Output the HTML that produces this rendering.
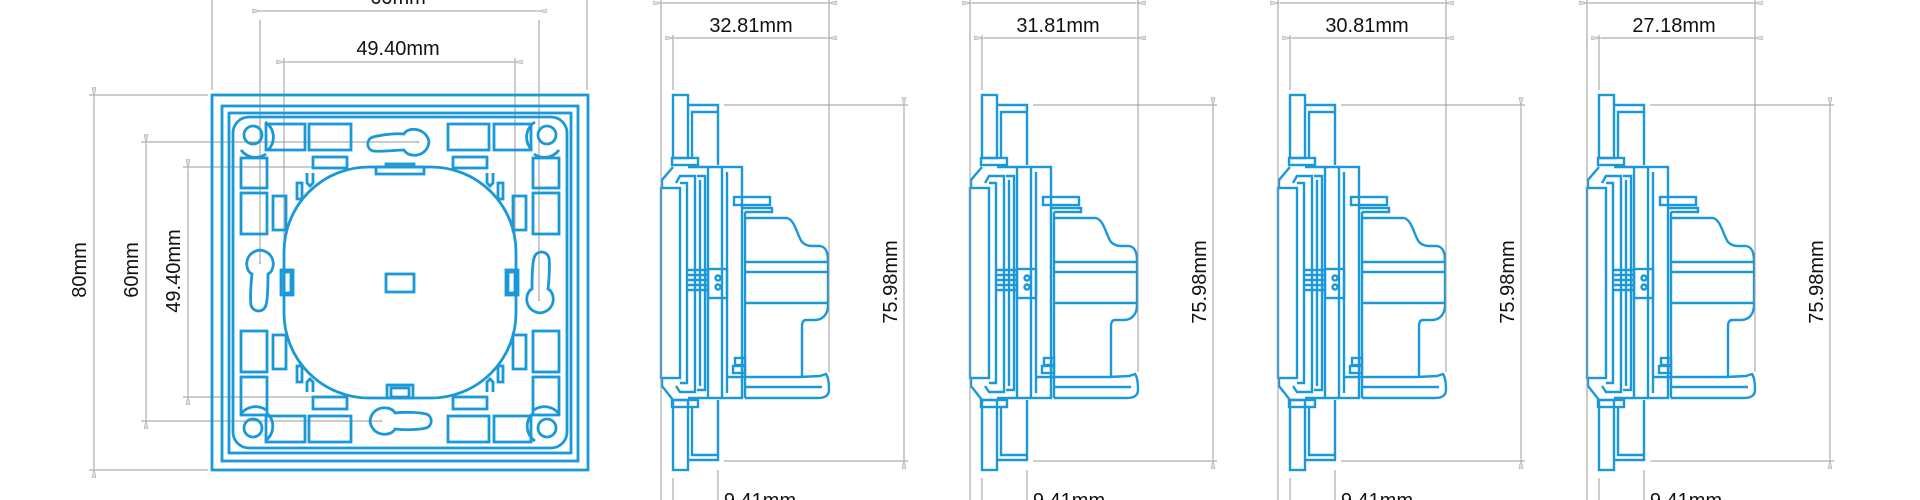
<!DOCTYPE html>
<html><head><meta charset="utf-8"><style>
html,body{margin:0;padding:0;background:#fff;}
svg{display:block;}
text{font-family:"Liberation Sans",sans-serif;font-size:20px;fill:#111;}
</style></head><body>
<svg width="1920" height="500" viewBox="0 0 1920 500" xmlns="http://www.w3.org/2000/svg">
<defs>
<marker id="a" viewBox="0 0 10 6" refX="0" refY="3" markerWidth="10" markerHeight="6" orient="auto-start-reverse" markerUnits="userSpaceOnUse">
<path d="M0,3 L10,1 L10,5 Z" fill="#ddd" stroke="#aaa" stroke-width="0.6"/>
</marker>
<g id="side" fill="none" stroke="#1a98d8" stroke-width="2.4">
  <rect x="673" y="95" width="15" height="63"/>
  <rect x="673" y="400" width="15" height="70"/>
  <path d="M688,105 H718 V165 M692,158 V112 H718"/>
  <path d="M688,460 H718 V400 M692,408 V455 H718"/>
  <rect x="672" y="158" width="26" height="7"/>
  <rect x="672" y="400" width="26" height="7"/>
  <path d="M673,167 L662,180 V188 M662,378 V386 L673,400"/>
  <rect x="661" y="188" width="19" height="190"/>
  <path d="M676,183 L680,176 H695 V392 H680 L676,386"/>
  <path d="M680,183 H687 V383 H680"/>
  <path d="M697,176 H705 V390 H697"/>
  <path d="M700,180 V386"/>
  <path d="M688,167 H722 M688,398 H722"/>
  <path d="M708,167 V398"/>
  <rect x="722" y="167" width="20" height="231"/>
  <path d="M727,172 V393"/>
  <rect x="734" y="197" width="36" height="8"/>
  <path d="M742,208 H772 V212 H745"/>
  <path d="M745,212 V398"/>
  <path d="M688,270 H708 M688,275 H708 M688,280 H708 M688,285 H708 M688,290 H708"/>
  <rect x="708" y="269" width="19" height="29"/>
  <circle cx="718" cy="278" r="2.5"/><circle cx="718" cy="287" r="2.5"/>
  <path d="M745,218 H787 C795,220 797,235 802,242 C805,245 808,246 812,246 H820 C826,247 828,252 828,262 V305 C828,315 822,320 815,320 H806 C803,320 802,323 802,326 V377"/>
  <path d="M745,262 H828 M745,272 H828 M745,303 H828"/>
  <path d="M727,377 H800 L820,376 L826,374 C829,378 829,386 829,390 C829,396 824,398 818,398 H745"/>
  <path d="M745,387 H822"/>
  <rect x="735" y="358" width="10" height="7"/><rect x="733" y="366" width="12" height="7"/>
</g>
<g id="sidedim" stroke="#9a9a9a" stroke-width="1" fill="none">
  <path d="M661,0 V500 M673,35 V90 M673,478 V500 M829,0 V372 M718,470 V500"/>
  <path d="M663,3 H827" marker-start="url(#a)" marker-end="url(#a)"/>
  <path d="M675,38 H827" marker-start="url(#a)" marker-end="url(#a)"/>
  <path d="M724,105 H908 M724,461 H908"/>
  <path d="M904,107 V459" marker-start="url(#a)" marker-end="url(#a)"/>
</g>
</defs>

<g stroke="#9a9a9a" stroke-width="1" fill="none">
  <path d="M212,0 V90 M587,0 V90"/>
  <path d="M260,20 V263 M539,20 V300"/>
  <path d="M262,11 H537" marker-start="url(#a)" marker-end="url(#a)"/>
  <path d="M284,58 V255 M515,58 V255"/>
  <path d="M286,62 H513" marker-start="url(#a)" marker-end="url(#a)"/>
  <path d="M89,95 H208 M89,470 H208"/>
  <path d="M94,97 V468" marker-start="url(#a)" marker-end="url(#a)"/>
  <path d="M141,142 H418 M141,421 H380"/>
  <path d="M146,144 V419" marker-start="url(#a)" marker-end="url(#a)"/>
  <path d="M183,167 H330 M183,397 H340"/>
  <path d="M188,169 V395" marker-start="url(#a)" marker-end="url(#a)"/>
</g>
<text x="398" y="4" text-anchor="middle">60mm</text>
<text x="398" y="55" text-anchor="middle">49.40mm</text>
<text transform="translate(86,270) rotate(-90)" text-anchor="middle">80mm</text>
<text transform="translate(138,270) rotate(-90)" text-anchor="middle">60mm</text>
<text transform="translate(180,271) rotate(-90)" text-anchor="middle">49.40mm</text>

<g fill="none" stroke="#1a98d8" stroke-width="2.8">
  <rect x="212" y="95" width="376" height="375"/>
  <rect x="222" y="106" width="356" height="355"/>
  <rect x="229" y="113" width="342" height="340"/>
  <rect x="233" y="117" width="334" height="331" rx="16"/>
  <rect x="284" y="167" width="232" height="231" rx="85"/>
  <rect x="386" y="274" width="28" height="18"/>
  <circle cx="253" cy="135" r="9"/><circle cx="547" cy="135" r="9"/>
  <circle cx="253" cy="428" r="9"/><circle cx="547" cy="428" r="9"/>
  <path d="M265,122 A18,18 0 0 1 268,150 M535,122 A18,18 0 0 0 532,150 M265,441 A18,18 0 0 0 268,414 M535,441 A18,18 0 0 1 532,414"/>
  <path d="M241,150 A18,18 0 0 0 266,154 M559,150 A18,18 0 0 1 534,154 M241,414 A18,18 0 0 1 266,410 M559,414 A18,18 0 0 0 534,410"/>
  <rect x="266" y="124" width="39" height="26"/><rect x="309" y="124" width="42" height="26"/>
  <rect x="448" y="124" width="41" height="26"/><rect x="494" y="124" width="37" height="26"/>
  <rect x="266" y="416" width="39" height="26"/><rect x="309" y="416" width="42" height="26"/>
  <rect x="448" y="416" width="41" height="26"/><rect x="494" y="416" width="37" height="26"/>
  <rect x="241" y="158" width="26" height="30"/><rect x="241" y="193" width="26" height="41"/>
  <rect x="241" y="331" width="26" height="41"/><rect x="241" y="377" width="26" height="38"/>
  <rect x="533" y="158" width="26" height="30"/><rect x="533" y="193" width="26" height="41"/>
  <rect x="533" y="331" width="26" height="41"/><rect x="533" y="377" width="26" height="38"/>
  <rect x="313" y="157" width="34" height="11"/><rect x="453" y="157" width="34" height="11"/>
  <rect x="313" y="397" width="34" height="12"/><rect x="453" y="397" width="34" height="12"/>
  <rect x="273" y="196" width="13" height="34"/><rect x="273" y="335" width="13" height="34"/>
  <rect x="513" y="196" width="13" height="34"/><rect x="513" y="335" width="13" height="34"/>
  <rect x="297" y="183" width="5" height="16"/><rect x="498" y="183" width="5" height="16"/>
  <rect x="297" y="366" width="5" height="16"/><rect x="498" y="366" width="5" height="16"/>
  <path d="M307,173 V183 L310,186 L313,183 V173 M487,173 V183 L490,186 L493,183 V173"/>
  <path d="M307,392 V382 L310,379 L313,382 V392 M487,392 V382 L490,379 L493,382 V392"/>
  <rect x="376" y="167" width="48" height="7"/><rect x="386" y="164" width="28" height="3"/>
  <rect x="387" y="385" width="26" height="13"/><rect x="391" y="388" width="18" height="9"/>
  <rect x="281" y="270" width="12" height="25"/><rect x="284" y="272" width="7" height="21"/>
  <rect x="506" y="270" width="12" height="25"/><rect x="508" y="272" width="7" height="21"/>
  <path d="M404,134 C396,133 380,135 373,137 C366,139 366,149 373,151 C380,152 396,150 404,150 C408,158 427,158 429,142 C427,128 408,126 404,134 Z"/>
  <path d="M395,413 C403,412 419,412 426,414 C433,416 433,426 426,428 C419,430 403,430 395,429 C391,437 372,437 370,421 C372,405 391,405 395,413 Z"/>
  <path d="M252,274 C251,282 250,298 251,305 C253,313 264,313 266,305 C268,298 268,282 268,274 C276,270 276,252 260,250 C244,252 244,270 252,274 Z"/>
  <path d="M548,289 C549,281 550,265 549,258 C547,250 536,250 534,258 C532,265 532,281 532,289 C524,293 524,311 540,313 C556,311 556,293 548,289 Z"/>
</g>
<g fill="#bbb"><circle cx="418" cy="142" r="1.2"/><circle cx="381" cy="421" r="1.2"/><circle cx="260" cy="263" r="1.2"/><circle cx="539" cy="300" r="1.2"/></g>

<use href="#side"/><use href="#sidedim"/>
<use href="#side" transform="translate(309,0)"/><use href="#sidedim" transform="translate(309,0)"/>
<use href="#side" transform="translate(617,0)"/><use href="#sidedim" transform="translate(617,0)"/>
<use href="#side" transform="translate(926,0)"/><use href="#sidedim" transform="translate(926,0)"/>

<text x="751" y="32" text-anchor="middle">32.81mm</text>
<text x="1058" y="32" text-anchor="middle">31.81mm</text>
<text x="1367" y="32" text-anchor="middle">30.81mm</text>
<text x="1674" y="32" text-anchor="middle">27.18mm</text>
<g text-anchor="middle">
<text transform="translate(897,282) rotate(-90)">75.98mm</text>
<text transform="translate(1206,282) rotate(-90)">75.98mm</text>
<text transform="translate(1514,282) rotate(-90)">75.98mm</text>
<text transform="translate(1823,282) rotate(-90)">75.98mm</text>
</g>
<text x="760" y="507" text-anchor="middle">9.41mm</text>
<text x="1069" y="507" text-anchor="middle">9.41mm</text>
<text x="1377" y="507" text-anchor="middle">9.41mm</text>
<text x="1686" y="507" text-anchor="middle">9.41mm</text>
</svg>
</body></html>
